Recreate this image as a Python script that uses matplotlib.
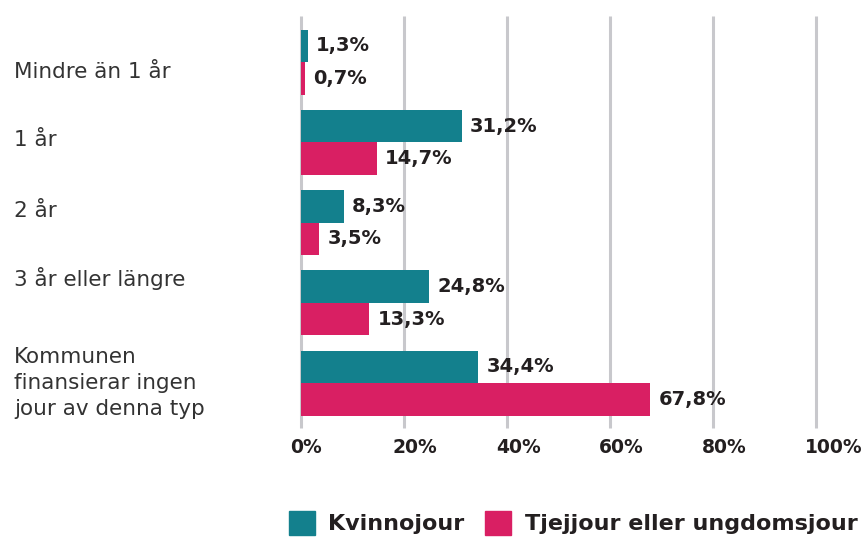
import matplotlib
matplotlib.use("Agg")
import matplotlib.pyplot as plt
import numpy as np
from matplotlib.patches import Patch
from matplotlib import transforms

categories = ["Mindre än 1 år", "1 år", "2 år", "3 år eller längre",
              "Kommunen\nfinansierar ingen\njour av denna typ"]
kvinnojour = [1.3, 31.2, 8.3, 24.8, 34.4]
tjejjour = [0.7, 14.7, 3.5, 13.3, 67.8]
series_names = ["Kvinnojour", "Tjejjour eller ungdomsjour"]
xticks = [0, 20, 40, 60, 80, 100]
xtick_labels = ["0%", "20%", "40%", "60%", "80%", "100%"]

TEAL = "#13808D"
PINK = "#D91F63"
TXT = "#231F20"
FONT = "DejaVu Sans"

fig = plt.figure(figsize=(8.61, 5.37), dpi=100)
ax = fig.add_axes([301/861, 1 - 428/537, (816-301)/861, (428-16)/537])

y = np.arange(len(categories))
h = 0.405
ax.barh(y - h/2, kvinnojour, height=h, color=TEAL, zorder=3)
ax.barh(y + h/2, tjejjour, height=h, color=PINK, zorder=3)

ax.set_xlim(0, 100)
ax.set_ylim(4.56, -0.575)

for i in range(len(categories)):
    for val, off in ((kvinnojour[i], -h/2), (tjejjour[i], h/2)):
        ax.annotate(f"{val:.1f}%".replace(".", ","), (val, y[i] + off),
                    xytext=(6, 0), textcoords="offset points",
                    ha="left", va="center", fontsize=14, fontweight="bold",
                    color=TXT, family=FONT, zorder=4)

ax.set_xticks([])
ax.set_yticks([])
ax.vlines(xticks, -0.575, 4.56, colors="#C8C8CC", linewidth=2.2, zorder=0, clip_on=False)
for s in ax.spines.values():
    s.set_visible(False)

# x tick labels (left aligned a bit before gridline)
tr = transforms.blended_transform_factory(ax.transData, ax.transAxes)
for xv, lab in zip(xticks, xtick_labels):
    ax.annotate(lab, (xv, 0), xycoords=tr, xytext=(-8, -14),
                textcoords="offset points", ha="left", va="center",
                fontsize=13.5, fontweight="bold", color=TXT, family=FONT)

# category labels at left
label_offsets = [0.125, -0.025, -0.15, -0.3, 0.0]
trl = transforms.blended_transform_factory(fig.transFigure, ax.transData)
for i, cat in enumerate(categories):
    ax.text(14/861, y[i] + label_offsets[i], cat, transform=trl, ha="left",
            va="center", fontsize=15.5, color="#333333", family=FONT,
            linespacing=1.35)

handles = [Patch(color=TEAL), Patch(color=PINK)]
leg = fig.legend(handles, series_names, loc="center", bbox_to_anchor=(573/861, 1 - 523/537),
                 ncol=2, frameon=False, handlelength=1.2, handleheight=1.3,
                 handletextpad=0.6, columnspacing=0.9,
                 prop={"family": FONT, "weight": "bold", "size": 16})
for t in leg.get_texts():
    t.set_color(TXT)

fig.savefig("out.png", dpi=100)
